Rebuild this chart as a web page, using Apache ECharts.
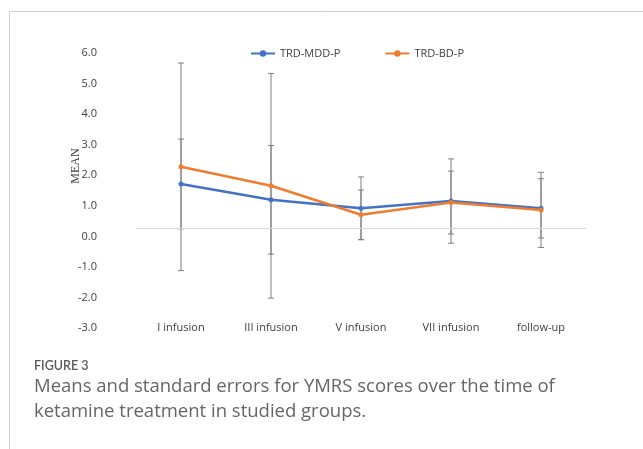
<!DOCTYPE html>
<html><head><meta charset="utf-8">
<script src="https://cdn.jsdelivr.net/npm/echarts@6/dist/echarts.min.js"></script>
<style>html,body{margin:0;padding:0;background:#fff}#c{width:643px;height:449px}</style>
</head><body><div id="c"></div>
<script>
var categories = ['I infusion','III infusion','V infusion','VII infusion','follow-up'];
var mddMean = [1.44, 0.92, 0.64, 0.88, 0.64];
var mddErr  = [1.47, 1.78, 1.03, 1.38, 0.97];
var bdMean  = [2.00, 1.38, 0.43, 0.83, 0.59];
var bdErr   = [3.40, 3.68, 0.81, 1.03, 1.23];
var yTicks = [-3, 6, 1];

function errData(mean, err){
  return mean.map(function(m,i){ return [i, m - err[i], m + err[i]]; });
}
function errRender(params, api){
  var x = api.value(0);
  var lo = api.coord([x, api.value(1)]);
  var hi = api.coord([x, api.value(2)]);
  var w = 3;
  var st = {stroke:'#7f7f7f', lineWidth:1};
  return {type:'group', children:[
    {type:'line', shape:{x1:lo[0],y1:lo[1],x2:hi[0],y2:hi[1]}, style:st},
    {type:'line', shape:{x1:lo[0]-w,y1:lo[1],x2:lo[0]+w,y2:lo[1]}, style:st},
    {type:'line', shape:{x1:hi[0]-w,y1:hi[1],x2:hi[0]+w,y2:hi[1]}, style:st}
  ]};
}
var chart = echarts.init(document.getElementById('c'));
var font = '"Open Sans", Lato, sans-serif';
chart.setOption({
  animation:false,
  backgroundColor:'#fff',
  grid:{left:136, right:57, top:44.7, bottom:129.5},
  legend:{
    left:245, top:43, itemWidth:24, itemHeight:8, itemGap:44,
    textStyle:{fontFamily:font, fontSize:11, color:'#404040'},
    data:['TRD-MDD-P','TRD-BD-P']
  },
  xAxis:{
    type:'category', data:categories, boundaryGap:true,
    axisLine:{show:false}, axisTick:{show:false},
    axisLabel:{margin:3, fontFamily:font, fontSize:11, color:'#404040'}
  },
  yAxis:{
    type:'value', min:yTicks[0], max:yTicks[1], interval:yTicks[2],
    axisLine:{show:false}, axisTick:{show:false}, splitLine:{show:false},
    axisLabel:{margin:39, verticalAlign:'top', padding:[3,0,0,0], fontFamily:font, fontSize:11, color:'#404040',
      formatter:function(v){return v.toFixed(1);}}
  },
  graphic:[
    {type:'line', shape:{x1:9.5,y1:11.5,x2:643,y2:11.5}, style:{stroke:'#cfcfcf', lineWidth:1}},
    {type:'line', shape:{x1:9.5,y1:11.5,x2:9.5,y2:449}, style:{stroke:'#cfcfcf', lineWidth:1}},
    {type:'text', x:76, y:166, rotation:Math.PI/2, style:{text:'MEAN', font:'12px "Liberation Serif", serif', fill:'#404040', textAlign:'center', textVerticalAlign:'middle'}},
    {type:'text', left:34, top:359, style:{text:'FIGURE 3', font:'600 12.5px Lato, "Open Sans", sans-serif', fill:'#5a5a5a'}},
    {type:'text', left:34, top:374, style:{text:'Means and standard errors for YMRS scores over the time of\nketamine treatment in studied groups.', font:'18.5px "Open Sans", Lato, sans-serif', fill:'#666', lineHeight:25}}
  ],
  series:[
    {name:'errMDD', type:'custom', renderItem:errRender, data:errData(mddMean, mddErr), z:1, silent:true},
    {name:'errBD', type:'custom', renderItem:errRender, data:errData(bdMean, bdErr), z:1, silent:true},
    {name:'TRD-MDD-P', type:'line', data:mddMean, z:3,
      symbol:'circle', symbolSize:5, itemStyle:{color:'#4472C4'}, lineStyle:{color:'#4472C4', width:2.5},
      markLine:{silent:true, symbol:'none', label:{show:false}, lineStyle:{color:'#d9d9d9', width:1, type:'solid'}, data:[{yAxis:0}]}},
    {name:'TRD-BD-P', type:'line', data:bdMean, z:4,
      symbol:'circle', symbolSize:5, itemStyle:{color:'#ED7D31'}, lineStyle:{color:'#ED7D31', width:2.5}}
  ]
});
</script></body></html>
